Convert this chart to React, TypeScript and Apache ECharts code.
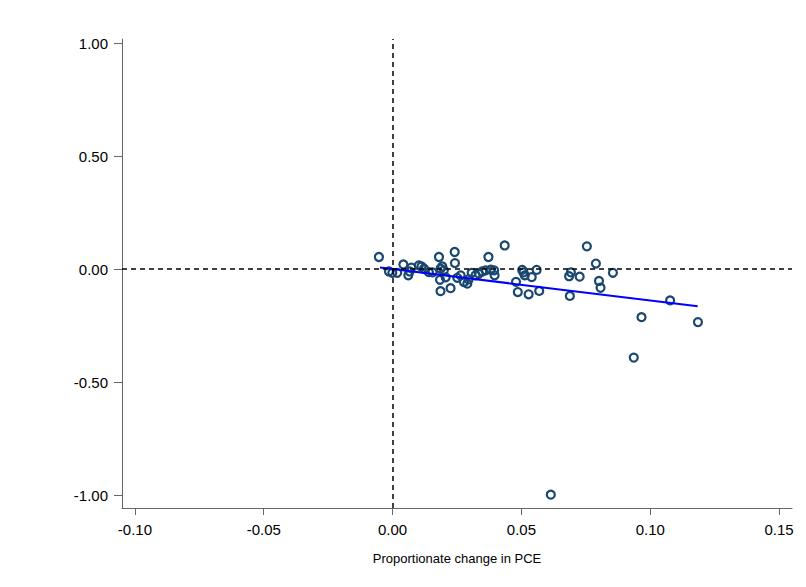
import React, { useEffect, useRef } from "react";
import * as echarts from "echarts";

const pceChange: number[] = [
  -0.0053, -0.0014, -0.0001, 0.0018, 0.0042, 0.0061, 0.0066, 0.0073, 0.0102, 0.0112,
  0.0122, 0.0141, 0.0155, 0.018, 0.0186, 0.0193, 0.0199, 0.0184, 0.0186, 0.0206,
  0.0225, 0.0241, 0.0242, 0.0251, 0.0264, 0.0277, 0.029, 0.0295, 0.0307, 0.0322,
  0.0335, 0.0348, 0.0361, 0.0372, 0.0381, 0.0394, 0.0396, 0.0435, 0.0479, 0.0486,
  0.0503, 0.0508, 0.0513, 0.0528, 0.054, 0.0559, 0.0569, 0.0614, 0.0685, 0.0692,
  0.0688, 0.0726, 0.0754, 0.0789, 0.0801, 0.0807, 0.0855, 0.0966, 0.1077, 0.0936,
  0.1185,
];
const spendChange: number[] = [
  0.054, -0.01, -0.016, -0.016, 0.021, -0.027, -0.01, 0.007, 0.017, 0.012,
  0.002, -0.013, -0.014, 0.054, 0.002, 0.012, -0.005, -0.047, -0.097, -0.036,
  -0.084, 0.076, 0.027, -0.038, -0.027, -0.057, -0.064, -0.045, -0.016, -0.027,
  -0.02, -0.01, -0.005, 0.054, -0.002, -0.005, -0.027, 0.105, -0.056, -0.101,
  -0.003, -0.014, -0.027, -0.111, -0.035, -0.003, -0.096, -0.997, -0.031, -0.014,
  -0.118, -0.033, 0.101, 0.025, -0.052, -0.082, -0.016, -0.212, -0.138, -0.391,
  -0.234,
];
const fitX: number[] = [-0.0049, 0.1184];
const fitY: number[] = [0.0075, -0.164];
const xTicks: number[] = [-0.1, -0.05, 0, 0.05, 0.1, 0.15];
const yTicks: number[] = [-1, -0.5, 0, 0.5, 1];
const xTitle = "Proportionate change in PCE";

export default function App() {
  const ref = useRef<HTMLDivElement>(null);
  useEffect(() => {
    if (!ref.current) return;
    const chart = echarts.init(ref.current, null, { renderer: "svg" });
    const font = "Liberation Sans, Arial, sans-serif";
    const axisLine = { show: true, onZero: false, lineStyle: { color: "#666", width: 1 } };
    chart.setOption({
      animation: false,
      backgroundColor: "#fff",
      grid: { left: 122, right: 14, top: 39, bottom: 79 },
      xAxis: {
        type: "value",
        min: -0.105,
        max: 0.155,
        axisLine,
        splitLine: { show: false },
        axisTick: { show: true, length: 7, lineStyle: { color: "#666" }, customValues: xTicks },
        axisLabel: {
          color: "#000",
          fontFamily: font,
          fontSize: 15,
          margin: 14,
          customValues: xTicks,
          formatter: (v: number) => v.toFixed(2),
        },
        name: xTitle,
        nameLocation: "middle",
        nameGap: 44,
        nameTextStyle: { color: "#000", fontFamily: font, fontSize: 13 },
      },
      yAxis: {
        type: "value",
        min: -1.056,
        max: 1.018,
        axisLine,
        splitLine: { show: false },
        axisTick: { show: true, length: 8, lineStyle: { color: "#666" }, customValues: yTicks },
        axisLabel: {
          color: "#000",
          fontFamily: font,
          fontSize: 15,
          margin: 14,
          customValues: yTicks,
          formatter: (v: number) => v.toFixed(2),
        },
      },
      series: [
        {
          type: "scatter",
          data: pceChange.map((x, i) => [x, spendChange[i]]),
          symbol: "circle",
          symbolSize: 8,
          itemStyle: { color: "transparent", borderColor: "#1a476f", borderWidth: 2.2, opacity: 1 },
          markLine: {
            silent: true,
            symbol: "none",
            label: { show: false },
            lineStyle: { color: "#000", type: [5, 4], width: 1.5 },
            data: [{ xAxis: 0 }, { yAxis: 0 }],
          },
          z: 3,
        },
        {
          type: "line",
          data: fitX.map((x, i) => [x, fitY[i]]),
          showSymbol: false,
          symbol: "none",
          lineStyle: { color: "#0000ff", width: 2 },
          z: 4,
        },
      ],
    });
    return () => chart.dispose();
  }, []);
  return (
    <div
      ref={ref}
      style={{ position: "fixed", left: 0, top: 0, width: 806, height: 587 }}
    />
  );
}
